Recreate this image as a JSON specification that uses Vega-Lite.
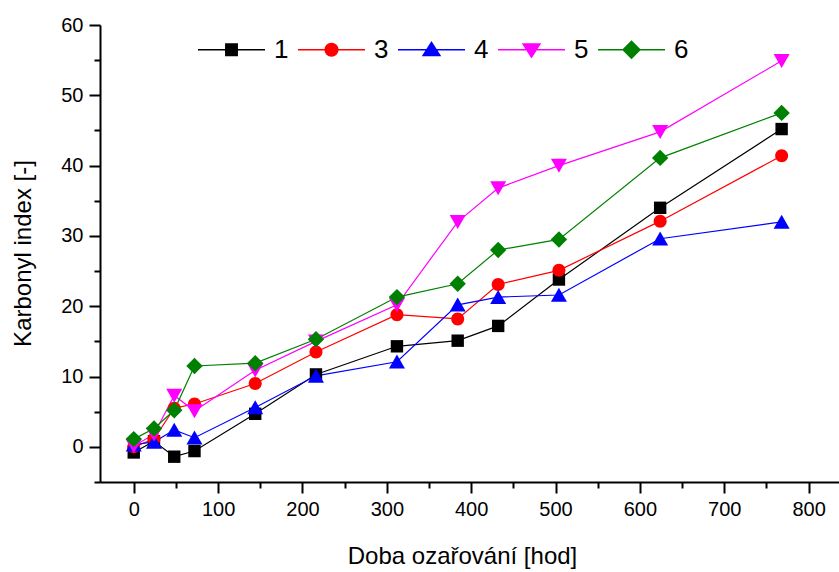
{
  "$schema": "https://vega.github.io/schema/vega-lite/v6.json",
  "width": 739,
  "height": 457,
  "autosize": {"type": "none"},
  "padding": {"left": 100, "top": 25, "right": 0, "bottom": 90},
  "background": "white",
  "config": {
    "view": {"stroke": null},
    "font": "Liberation Sans",
    "axis": {"grid": false, "domainColor": "black", "domainWidth": 2, "tickColor": "black", "tickWidth": 2, "labelColor": "black", "titleColor": "black", "labelFont": "Liberation Sans", "titleFont": "Liberation Sans", "labelFontSize": 20, "titleFontSize": 24, "titleFontWeight": "normal"},
    "legend": {"symbolSize": 4489, "symbolStrokeWidth": 1.5, "labelFontSize": 26, "labelFont": "Liberation Sans", "labelColor": "black", "labelOffset": 8, "columnPadding": 6}
  },
  "data": {"values": [
    {"t": 0, "s": "1", "k": -0.8}, {"t": 24, "s": "1", "k": 0.8}, {"t": 48, "s": "1", "k": -1.4}, {"t": 72, "s": "1", "k": -0.6}, {"t": 144, "s": "1", "k": 4.7}, {"t": 216, "s": "1", "k": 10.3}, {"t": 312, "s": "1", "k": 14.3}, {"t": 384, "s": "1", "k": 15.1}, {"t": 432, "s": "1", "k": 17.2}, {"t": 504, "s": "1", "k": 23.8}, {"t": 624, "s": "1", "k": 34.0}, {"t": 768, "s": "1", "k": 45.2},
    {"t": 0, "s": "3", "k": 0.0}, {"t": 24, "s": "3", "k": 1.1}, {"t": 48, "s": "3", "k": 5.5}, {"t": 72, "s": "3", "k": 6.1}, {"t": 144, "s": "3", "k": 9.0}, {"t": 216, "s": "3", "k": 13.5}, {"t": 312, "s": "3", "k": 18.8}, {"t": 384, "s": "3", "k": 18.2}, {"t": 432, "s": "3", "k": 23.1}, {"t": 504, "s": "3", "k": 25.1}, {"t": 624, "s": "3", "k": 32.1}, {"t": 768, "s": "3", "k": 41.4},
    {"t": 0, "s": "4", "k": 0.3}, {"t": 24, "s": "4", "k": 0.7}, {"t": 48, "s": "4", "k": 2.4}, {"t": 72, "s": "4", "k": 1.3}, {"t": 144, "s": "4", "k": 5.6}, {"t": 216, "s": "4", "k": 10.1}, {"t": 312, "s": "4", "k": 12.1}, {"t": 384, "s": "4", "k": 20.2}, {"t": 432, "s": "4", "k": 21.3}, {"t": 504, "s": "4", "k": 21.6}, {"t": 624, "s": "4", "k": 29.6}, {"t": 768, "s": "4", "k": 32.0},
    {"t": 0, "s": "5", "k": 0.1}, {"t": 24, "s": "5", "k": 1.8}, {"t": 48, "s": "5", "k": 7.3}, {"t": 72, "s": "5", "k": 5.1}, {"t": 144, "s": "5", "k": 10.9}, {"t": 216, "s": "5", "k": 15.0}, {"t": 312, "s": "5", "k": 20.2}, {"t": 384, "s": "5", "k": 32.0}, {"t": 432, "s": "5", "k": 36.8}, {"t": 504, "s": "5", "k": 40.0}, {"t": 624, "s": "5", "k": 44.8}, {"t": 768, "s": "5", "k": 54.9},
    {"t": 0, "s": "6", "k": 1.1}, {"t": 24, "s": "6", "k": 2.6}, {"t": 48, "s": "6", "k": 5.2}, {"t": 72, "s": "6", "k": 11.5}, {"t": 144, "s": "6", "k": 11.9}, {"t": 216, "s": "6", "k": 15.3}, {"t": 312, "s": "6", "k": 21.3}, {"t": 384, "s": "6", "k": 23.2}, {"t": 432, "s": "6", "k": 28.0}, {"t": 504, "s": "6", "k": 29.5}, {"t": 624, "s": "6", "k": 41.1}, {"t": 768, "s": "6", "k": 47.5}
  ]},
  "layer": [
    {
      "mark": {"type": "line", "strokeWidth": 1.2},
      "encoding": {
        "x": {"field": "t", "type": "quantitative", "scale": {"domain": [-40, 836], "nice": false, "zero": false},
          "axis": {"orient": "bottom", "values": [0, 100, 200, 300, 400, 500, 600, 700, 800], "tickSize": 11, "labelPadding": 6, "title": "Doba ozařování [hod]", "titleX": 362, "titleY": 81, "titleBaseline": "alphabetic", "titleAnchor": null}},
        "y": {"field": "k", "type": "quantitative", "scale": {"domain": [-5, 60], "nice": false, "zero": false},
          "axis": {"orient": "left", "values": [0, 10, 20, 30, 40, 50, 60], "tickSize": 11, "labelPadding": 6, "title": "Karbonyl index [-]", "titleAngle": -90, "titleX": -70, "titleY": 228, "titleAlign": "center", "titleBaseline": "alphabetic"}},
        "color": {"field": "s", "type": "nominal", "scale": {"domain": ["1", "3", "4", "5", "6"], "range": ["#000000", "#FF0000", "#0000FF", "#FF00FF", "#008000"]}, "legend": null},
        "order": {"field": "t", "type": "quantitative"}
      }
    },
    {
      "mark": {"type": "point", "filled": true, "opacity": 1, "strokeWidth": 0, "size": 400},
      "encoding": {
        "x": {"field": "t", "type": "quantitative", "axis": {"orient": "bottom", "values": [50, 150, 250, 350, 450, 550, 650, 750], "tickSize": 6, "labels": false, "title": null, "domain": false}},
        "y": {"field": "k", "type": "quantitative", "axis": {"orient": "left", "values": [-5, 5, 15, 25, 35, 45, 55], "tickSize": 6, "labels": false, "title": null, "domain": false}},
        "color": {"field": "s", "type": "nominal", "legend": null},
        "shape": {"field": "s", "type": "nominal", "scale": {"domain": ["1", "3", "4", "5", "6"], "range": ["M-0.62,-0.62H0.62V0.62H-0.62Z", "M-0.65,0A0.65,0.65,0,1,0,0.65,0A0.65,0.65,0,1,0,-0.65,0Z", "M0,-0.72L0.8,0.68L-0.8,0.68Z", "M0,0.72L0.8,-0.68L-0.8,-0.68Z", "M0,-0.82L0.82,0L0,0.82L-0.82,0Z"]}, "legend": null}
      }
    },
    {
      "transform": [{"filter": "datum.t < -1000"}],
      "mark": {"type": "point", "filled": true, "opacity": 1, "strokeWidth": 1.5},
      "encoding": {
        "x": {"field": "t", "type": "quantitative", "axis": null},
        "y": {"field": "k", "type": "quantitative", "axis": null},
        "color": {"field": "s", "type": "nominal",
          "legend": {"title": null, "orient": "none", "direction": "horizontal", "legendX": 97, "legendY": -10}},
        "stroke": {"field": "s", "type": "nominal", "scale": {"domain": ["1", "3", "4", "5", "6"], "range": ["#000000", "#FF0000", "#0000FF", "#FF00FF", "#008000"]},
          "legend": {"title": null, "orient": "none", "direction": "horizontal", "legendX": 97, "legendY": -10}},
        "shape": {"field": "s", "type": "nominal", "scale": {"domain": ["1", "3", "4", "5", "6"], "range": ["M-1,0H1M-0.17,-0.17H0.17V0.17H-0.17Z", "M-1,0H1M-0.19,0A0.19,0.19,0,1,0,0.19,0A0.19,0.19,0,1,0,-0.19,0Z", "M-1,0H1M0,-0.22L0.25,0.17L-0.25,0.17Z", "M-1,0H1M0,0.22L0.25,-0.17L-0.25,-0.17Z", "M-1,0H1M0,-0.25L0.25,0L0,0.25L-0.25,0Z"]},
          "legend": {"title": null, "orient": "none", "direction": "horizontal", "legendX": 97, "legendY": -10}}
      }
    }
  ],
  "resolve": {"axis": {"x": "independent", "y": "independent"}, "scale": {"shape": "independent"}, "legend": {"color": "independent", "shape": "independent", "stroke": "independent"}}
}
